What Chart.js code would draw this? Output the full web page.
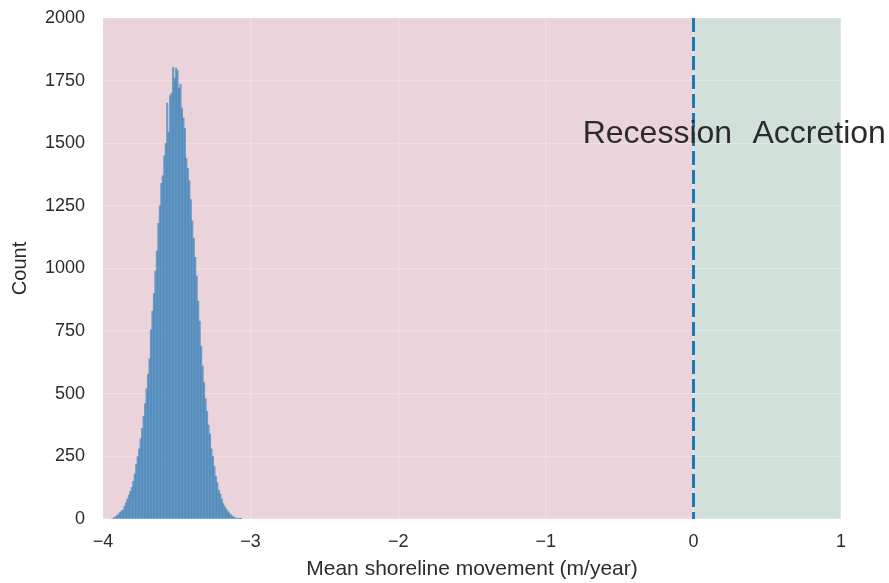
<!DOCTYPE html>
<html>
<head>
<meta charset="utf-8">
<title>Mean shoreline movement</title>
<script src="https://cdn.jsdelivr.net/npm/chart.js@4.4.1/dist/chart.umd.min.js"></script>
<style>
  html, body { margin: 0; padding: 0; background: #ffffff; }
  #wrap { width: 889px; height: 583px; position: relative; }
</style>
</head>
<body>
<div id="wrap"><canvas id="histChart" width="889" height="583"></canvas></div>
<script>
// ---- histogram data (bin centres in m/year, counts per bin) ----
const binCenters = [
  -3.935, -3.925, -3.915, -3.905, -3.895, -3.885, -3.875, -3.865, -3.855, -3.845,
  -3.835, -3.825, -3.815, -3.805, -3.795, -3.785, -3.775, -3.765, -3.755, -3.745,
  -3.735, -3.725, -3.715, -3.705, -3.695, -3.685, -3.675, -3.665, -3.655, -3.645,
  -3.635, -3.625, -3.615, -3.605, -3.595, -3.585, -3.575, -3.565, -3.555, -3.545,
  -3.535, -3.525, -3.515, -3.505, -3.495, -3.485, -3.475, -3.465, -3.455, -3.445,
  -3.435, -3.425, -3.415, -3.405, -3.395, -3.385, -3.375, -3.365, -3.355, -3.345,
  -3.335, -3.325, -3.315, -3.305, -3.295, -3.285, -3.275, -3.265, -3.255, -3.245,
  -3.235, -3.225, -3.215, -3.205, -3.195, -3.185, -3.175, -3.165, -3.155, -3.145,
  -3.135, -3.125, -3.115, -3.105, -3.095, -3.085, -3.075, -3.065
];
const binCounts = [
     2,    5,   10,   14,   20,   26,   32,   36,   50,   64,
    80,   95,  110,  126,  150,  180,  218,  249,  280,  320,
   362,  410,  460,  520,  578,  640,  755,  830,  900,  990,
  1070, 1180, 1250, 1340, 1370, 1450, 1500, 1660, 1545, 1690,
  1700, 1803, 1760, 1800, 1790, 1720, 1735, 1640, 1600, 1560,
  1440, 1400, 1350, 1275, 1190, 1120, 1045,  970,  870,  790,
   690,  610,  545,  480,  430,  375,  340,  280,  250,  210,
   170,  145,  115,  100,   80,   62,   50,   40,   32,   25,
    18,   12,    8,    5,    3,    2,    2,    1
];

// axis ticks
const xTicks = [-4, -3, -2, -1, 0, 1];
const yTicks = [0, 250, 500, 750, 1000, 1250, 1500, 1750, 2000];

// shaded regions and annotations
const regions = [
  { from: -4, to: 0, color: 'rgba(234, 188, 194, 0.5)' },
  { from: 0, to: 1, color: 'rgba(186, 214, 194, 0.5)' }
];
const thresholdX = 0;
const annotations = [
  { text: 'Recession', x: -0.75, y: 1500 },
  { text: 'Accretion', x: 0.4, y: 1500 }
];

const FONT = "'Liberation Sans', Arial, sans-serif";
const TEXT_COLOR = '#2b2b2b';

const histData = binCenters.map((x, i) => ({ x: x, y: binCounts[i] }));

// background, shaded spans, dashed threshold line and text labels
const shadePlugin = {
  id: 'shade',
  beforeDraw(chart) {
    const { ctx, chartArea: a } = chart;
    ctx.save();
    ctx.fillStyle = '#eaeaf2';
    ctx.fillRect(a.left, a.top, a.right - a.left, a.bottom - a.top);
    ctx.restore();
  },
  beforeDatasetsDraw(chart) {
    const { ctx, chartArea: a, scales: { x } } = chart;
    ctx.save();
    regions.forEach(r => {
      const x0 = x.getPixelForValue(r.from);
      const x1 = x.getPixelForValue(r.to);
      ctx.fillStyle = r.color;
      ctx.fillRect(x0, a.top, x1 - x0, a.bottom - a.top);
    });
    ctx.restore();
  },
  afterDatasetsDraw(chart) {
    const { ctx, chartArea: a, scales: { x, y } } = chart;
    ctx.save();
    const px = Math.round(x.getPixelForValue(thresholdX)) + 0.5;
    ctx.strokeStyle = '#1f77b4';
    ctx.lineWidth = 3;
    ctx.setLineDash([14, 5]);
    ctx.beginPath();
    ctx.moveTo(px, a.top);
    ctx.lineTo(px, a.bottom);
    ctx.stroke();
    ctx.setLineDash([]);

    ctx.fillStyle = TEXT_COLOR;
    ctx.font = '32px ' + FONT;
    ctx.textAlign = 'left';
    ctx.textBaseline = 'alphabetic';
    annotations.forEach(t => {
      ctx.fillText(t.text, x.getPixelForValue(t.x), y.getPixelForValue(t.y));
    });
    ctx.restore();
  }
};

const fmt = v => (v < 0 ? '\u2212' + Math.abs(v) : String(v));

new Chart(document.getElementById('histChart'), {
  type: 'bar',
  data: {
    datasets: [{
      label: 'Count',
      data: histData,
      backgroundColor: 'rgba(31, 119, 180, 0.6)',
      borderWidth: 0,
      barPercentage: 1.0,
      categoryPercentage: 1.0
    }]
  },
  options: {
    responsive: false,
    animation: false,
    layout: { padding: { top: 18, right: 48, left: 0, bottom: 0 } },
    plugins: {
      legend: { display: false },
      tooltip: { enabled: false }
    },
    scales: {
      x: {
        type: 'linear',
        offset: false,
        min: xTicks[0],
        max: xTicks[xTicks.length - 1],
        afterBuildTicks: s => { s.ticks = xTicks.map(v => ({ value: v })); },
        afterFit: s => { s.height = 64; },
        grid: { color: '#ffffff', lineWidth: 1.3, drawTicks: false, offset: false },
        border: { display: false },
        ticks: {
          padding: 12,
          color: TEXT_COLOR,
          font: { family: FONT, size: 18 },
          callback: v => fmt(v)
        },
        title: {
          display: true,
          text: 'Mean shoreline movement (m/year)',
          color: TEXT_COLOR,
          font: { family: FONT, size: 21 },
          padding: { top: 0, bottom: 1 }
        }
      },
      y: {
        min: yTicks[0],
        max: yTicks[yTicks.length - 1],
        afterBuildTicks: s => { s.ticks = yTicks.map(v => ({ value: v })); },
        afterFit: s => { s.width = 103; s.paddingTop = 0; s.paddingBottom = 0; },
        grid: { color: '#ffffff', lineWidth: 1.3, drawTicks: false },
        border: { display: false },
        ticks: {
          padding: 18,
          color: TEXT_COLOR,
          font: { family: FONT, size: 18 },
          callback: v => fmt(v)
        },
        title: {
          display: true,
          text: 'Count',
          color: TEXT_COLOR,
          font: { family: FONT, size: 20 },
          padding: { top: 8, bottom: 0 }
        }
      }
    }
  },
  plugins: [shadePlugin]
});
</script>
</body>
</html>
